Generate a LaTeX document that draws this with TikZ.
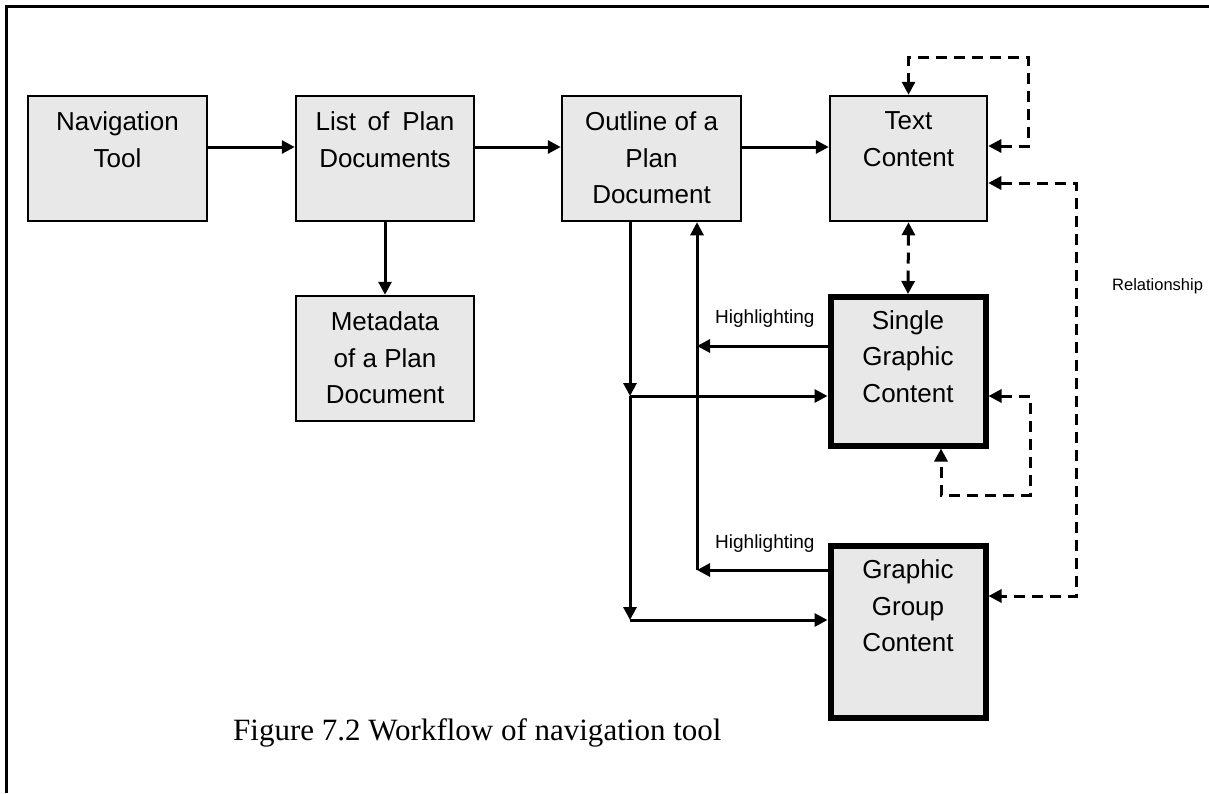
\documentclass[tikz,border=0pt]{standalone}
\usepackage{fontspec}
\setmainfont{Liberation Serif}
\newfontfamily\arialf{Liberation Sans}
\usetikzlibrary{arrows.meta}
\definecolor{boxfill}{RGB}{232,232,232}
\begin{document}
\begin{tikzpicture}[x=1pt,y=-1pt,
  >={Triangle[length=13pt,width=13pt]},
  box/.style={rectangle, draw, fill=boxfill, line width=2.5pt, inner sep=0pt},
  thickbox/.style={box, line width=6pt},
  btext/.style={anchor=north, inner sep=0pt, align=center, font=\arialf\fontsize{26}{36.5}\selectfont},
  conn/.style={line width=3pt, ->},
  dconn/.style={line width=3pt, dash pattern=on 11pt off 7pt, <->},
  small/.style={inner sep=0pt, font=\arialf\fontsize{19}{22}\selectfont}]
\useasboundingbox (0,0) rectangle (1209,793);
% frame
\draw[line width=3pt] (6.5,793) -- (6.5,6.5) -- (1209,6.5);
% boxes
\node[box, minimum width=179pt, minimum height=125pt] (nav) at (117.5,158.5) {};
\node[box, minimum width=178pt, minimum height=125pt] (list) at (385,158.5) {};
\node[box, minimum width=179pt, minimum height=125pt] (outline) at (651.5,158.5) {};
\node[box, minimum width=157pt, minimum height=125pt] (text) at (908.5,158.5) {};
\node[box, minimum width=178pt, minimum height=125pt] (meta) at (385,358.5) {};
\node[thickbox, minimum width=155pt, minimum height=148.5pt] (single) at (908,371.25) {};
\node[thickbox, minimum width=155pt, minimum height=172.5pt] (group) at (908,631.75) {};
% texts
\node[btext] (navt) at ([yshift=-17pt]nav.north) {Navigation\\Tool};
\node[btext] (listt) at ([yshift=-17pt]list.north) {List\hspace{0.45em}of\hspace{0.5em}Plan\\Documents};
\node[btext] (outlinet) at ([yshift=-17pt]outline.north) {Outline of a\\Plan\\Document};
\node[btext] (textt) at ([yshift=-17pt]text.north) {Text\\Content};
\node[btext] (metat) at ([yshift=-17pt]meta.north) {Metadata\\of a Plan\\Document};
\node[btext] (singlet) at ([yshift=-16pt]single.north) {Single\\Graphic\\Content};
\node[btext] (groupt) at ([yshift=-17pt]group.north) {Graphic\\Group\\Content};
% helper coordinates
\coordinate (j1) at (630,396);
\coordinate (j2) at (630,620);
\coordinate (h1) at (697,346);
\coordinate (h2) at (697,570);
\coordinate (tl) at (1028,57);
\coordinate (rl) at (1076,596);
\coordinate (sl) at (1030,495);
% solid connectors
\draw[conn] ([yshift=11.5pt]nav.east) -- ([yshift=11.5pt]list.west);
\draw[conn] ([yshift=11.5pt]list.east) -- ([yshift=11.5pt]outline.west);
\draw[conn] ([yshift=11.5pt]outline.east) -- ([yshift=11.5pt]text.west);
\draw[conn] (list.south) -- (meta.north);
\draw[conn] (outline.south -| j1) -- (j1);
\draw[conn] (j1) -- (j1 -| single.west);
\draw[conn] (j1) -- (j2);
\draw[conn] (j2) -- (j2 -| group.west);
\draw[conn] (single.west |- h1) -- (h1);
\draw[conn] (group.west |- h2) -- (h2);
\draw[conn] (h2) -- (h2 |- outline.south);
% dashed connectors
\draw[dconn] ([yshift=12.5pt]text.east) -| (tl) -| (text.north);
\draw[dconn] (text.south) -- (single.north);
\draw[dconn] ([yshift=-24.5pt]text.east) -| (rl) -- (rl -| group.east);
\draw[dconn] (single.east |- j1) -| (sl) -| ([xshift=33pt]single.south);
% labels
\node[small, anchor=base west] (hl1) at (715,323) {Highlighting};
\node[small, anchor=base west] (hl2) at (715,548) {Highlighting};
\node[inner sep=0pt, anchor=west, font=\arialf\fontsize{16.5}{19}\selectfont] (rel) at (1112,286) {Relationship};
\node[inner sep=0pt, anchor=base west, font=\fontsize{31}{36}\selectfont] (cap) at (233,740) {Figure 7.2 Workflow of navigation tool};
\end{tikzpicture}
\end{document}
